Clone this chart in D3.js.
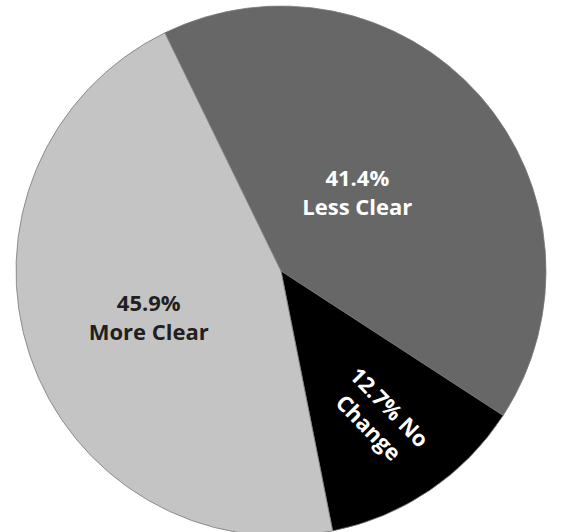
<!DOCTYPE html>
<html>
<head>
<meta charset="utf-8">
<script src="https://cdn.jsdelivr.net/npm/d3@7"></script>
<style>
  body { margin: 0; background: #fff; }
  text { font-family: "Open Sans", "DejaVu Sans", sans-serif; font-weight: 700; }
</style>
</head>
<body>
<div id="chart"></div>
<script>
// data
var categories = ["Less Clear", "No Change", "More Clear"];
var values = [41.4, 12.7, 45.9];
var valueLabels = ["41.4%", "12.7%", "45.9%"];
var colors = ["#676767", "#000000", "#c4c4c4"];

var width = 562, height = 532;
var cx = 281, cy = 271, radius = 265;

var svg = d3.select("#chart")
  .append("svg")
  .attr("width", width)
  .attr("height", height);

var g = svg.append("g").attr("transform", "translate(" + cx + "," + cy + ")");

var startAngle = -26 * Math.PI / 180;
var pie = d3.pie()
  .sort(null)
  .startAngle(startAngle)
  .endAngle(startAngle + 2 * Math.PI);

var arcs = pie(values);

var arc = d3.arc().innerRadius(0).outerRadius(radius);

g.selectAll("path.slice")
  .data(arcs)
  .enter()
  .append("path")
  .attr("class", "slice")
  .attr("d", arc)
  .attr("fill", function(d, i){ return colors[i]; })
  .attr("stroke", "#7a7a7a")
  .attr("stroke-width", 0.8);

// label placement, tuned by eye
var labelPos = {
  "Less Clear": { r: 110, nudge: -4.6, rot: 0, fill: "#ffffff", lines: function(i){ return [valueLabels[i], categories[i]]; } },
  "No Change":  { r: 176, nudge: 0, rot: 45.5, fill: "#ffffff", lines: function(i){ return [valueLabels[i] + " No", "Change"]; } },
  "More Clear": { r: 140, nudge: -0.5, rot: 0, fill: "#231f20", lines: function(i){ return [valueLabels[i], categories[i]]; } }
};

var lineH = 29;

arcs.forEach(function(d, i){
  var p = labelPos[categories[i]];
  var mid = (d.startAngle + d.endAngle) / 2 + p.nudge * Math.PI / 180;
  var pt = d3.pointRadial(mid, p.r);
  var t = g.append("text")
    .attr("transform", "translate(" + pt[0] + "," + pt[1] + ") rotate(" + p.rot + ")")
    .attr("text-anchor", "middle")
    .style("font-size", "22px")
    .style("fill", p.fill);
  var lines = p.lines(i);
  lines.forEach(function(s, k){
    t.append("tspan")
      .attr("x", 0)
      .attr("y", (k - (lines.length - 1) / 2) * lineH)
      .attr("dominant-baseline", "central")
      .text(s);
  });
});
</script>
</body>
</html>
